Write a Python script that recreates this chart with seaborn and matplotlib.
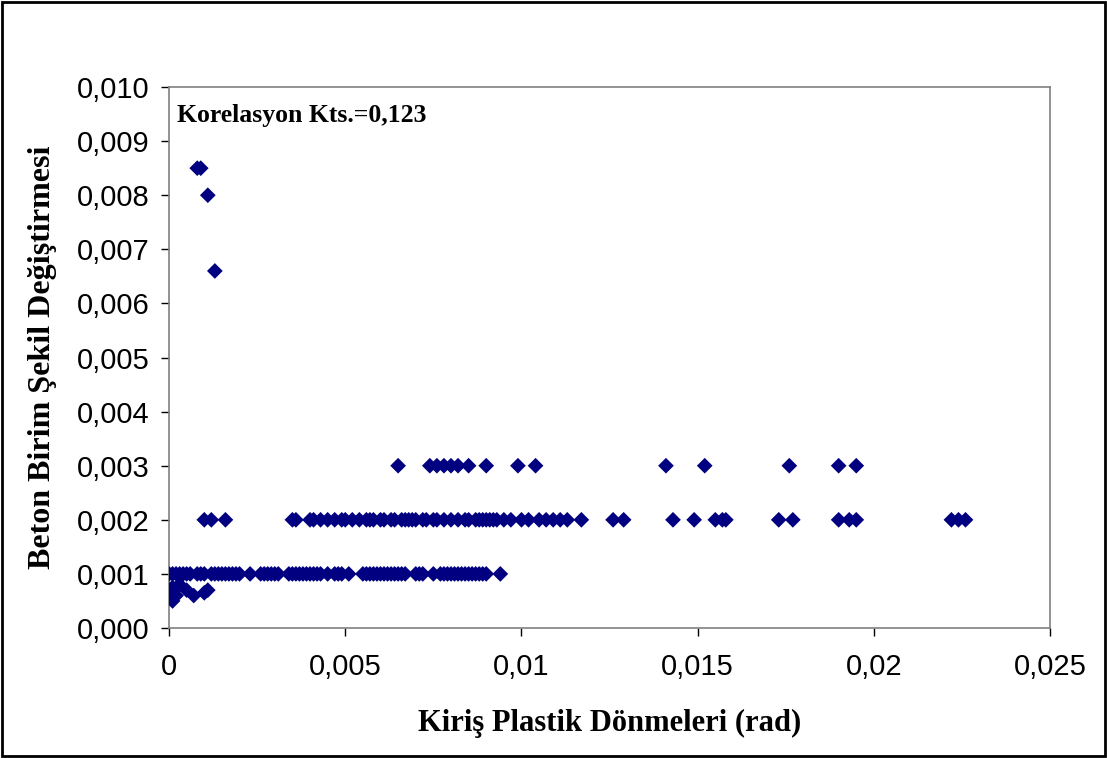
import numpy as np
import pandas as pd
import matplotlib
matplotlib.use("Agg")
import matplotlib.pyplot as plt
import seaborn as sns
from matplotlib.ticker import FuncFormatter, MultipleLocator
from matplotlib.patches import Rectangle

# Beam plastic rotations (rad) vs concrete strain
x_top = [0.0008, 0.0009, 0.0011, 0.0013]
y_top = [0.0085, 0.0085, 0.0080, 0.0066]

x_low = [0.0000, 0.0001, 0.0001, 0.0002, 0.0003, 0.0005, 0.0007, 0.0010, 0.0011]
y_low = [0.0007, 0.0005, 0.00075, 0.0006, 0.0008, 0.0007, 0.0006, 0.00065, 0.0007]

x_001 = [0.0000, 0.0001, 0.0002, 0.0003, 0.0004, 0.0005, 0.0006, 0.0008,
         0.0009, 0.0010, 0.0012, 0.0013, 0.0014, 0.0015, 0.0016, 0.0017,
         0.0018, 0.0019, 0.0020, 0.0023, 0.0026, 0.0027, 0.0028, 0.0029,
         0.0030, 0.0031, 0.0034, 0.0035, 0.0036, 0.0037, 0.0038, 0.0039,
         0.0040, 0.0041, 0.0042, 0.0043, 0.0045, 0.0047, 0.0048, 0.0049,
         0.0051, 0.0055, 0.0056, 0.0057, 0.0058, 0.0059, 0.0060, 0.0061,
         0.0062, 0.0063, 0.0064, 0.0065, 0.0066, 0.0067, 0.0070, 0.0071,
         0.0072, 0.0075, 0.0077, 0.0078, 0.0079, 0.0080, 0.0081, 0.0082,
         0.0083, 0.0084, 0.0085, 0.0086, 0.0087, 0.0088, 0.0089, 0.0090,
         0.0094]

x_002 = [0.0010, 0.0012, 0.0016, 0.0035, 0.0036, 0.0040, 0.0041, 0.0043,
         0.0045, 0.0047, 0.0049, 0.0050, 0.0052, 0.0054, 0.0056, 0.0057,
         0.0058, 0.0060, 0.0061, 0.0063, 0.0064, 0.0066, 0.0067, 0.0068,
         0.0069, 0.0070, 0.0072, 0.0073, 0.0075, 0.0076, 0.0078, 0.0080,
         0.0082, 0.0084, 0.0085, 0.0087, 0.0088, 0.0089, 0.0090, 0.0091,
         0.0092, 0.0093, 0.0095, 0.0097, 0.0100, 0.0102, 0.0105, 0.0107,
         0.0109, 0.0111, 0.0113, 0.0117, 0.0126, 0.0129, 0.0143, 0.0149,
         0.0155, 0.0157, 0.0158, 0.0173, 0.0177, 0.0190, 0.0193, 0.0195,
         0.0222, 0.0224, 0.0226]

x_003 = [0.0065, 0.0074, 0.0076, 0.0078, 0.0080, 0.0082, 0.0085, 0.0090,
         0.0099, 0.0104, 0.0141, 0.0152, 0.0176, 0.0190, 0.0195]

rotation = x_top + x_low + x_001 + x_002 + x_003
strain = (y_top + y_low + [0.001] * len(x_001) + [0.002] * len(x_002)
          + [0.003] * len(x_003))
df = pd.DataFrame({"rotation": rotation, "strain": strain})

sns.set_style("white")
plt.rcParams["font.family"] = ["Liberation Sans", "DejaVu Sans"]
plt.rcParams["text.color"] = "black"
plt.rcParams["axes.labelcolor"] = "black"
plt.rcParams["xtick.color"] = "black"
plt.rcParams["ytick.color"] = "black"

fig = plt.figure(figsize=(11.07, 7.58), dpi=100)
ax = fig.add_axes([0.1527, 0.1715, 0.7959, 0.7137])

sns.scatterplot(data=df, x="rotation", y="strain", marker="D", s=64,
                color="#000080", edgecolor="none", ax=ax, zorder=3)

ax.set_xlim(0, 0.025)
ax.set_ylim(0, 0.010)
ax.xaxis.set_major_locator(MultipleLocator(0.005))
ax.yaxis.set_major_locator(MultipleLocator(0.001))


def x_fmt(v, pos):
    if abs(v) < 1e-12:
        return "0"
    return f"{v:g}".replace(".", ",")


ax.xaxis.set_major_formatter(FuncFormatter(x_fmt))
ax.yaxis.set_major_formatter(FuncFormatter(lambda v, p: f"{v:.3f}".replace(".", ",")))
ax.tick_params(axis="both", labelsize=21, direction="out", length=6,
               width=1, color="black", labelcolor="black", bottom=True, left=True)
ax.tick_params(axis="x", pad=12)
ax.tick_params(axis="y", pad=8)

for side in ["top", "right", "left", "bottom"]:
    ax.spines[side].set_color("#808080")
    ax.spines[side].set_linewidth(1.2)

serif = ["Liberation Serif", "DejaVu Serif"]
ax.set_xlabel("Kiriş Plastik Dönmeleri (rad)", fontsize=22, fontweight="bold",
              family=serif, labelpad=20, color="black")
ax.set_ylabel("Beton Birim Şekil Değiştirmesi", fontsize=23, fontweight="bold",
              family=serif, labelpad=14, color="black")

ax.text(0.009, 0.948, "Korelasyon Kts.=0,123", transform=ax.transAxes,
        fontsize=18.5, fontweight="bold", family=serif, va="center", ha="left",
        color="black")

fig.patches.append(Rectangle((0.002, 0.003), 0.996, 0.994, transform=fig.transFigure,
                             fill=False, edgecolor="black", linewidth=2))

fig.savefig("out.png", dpi=100)
